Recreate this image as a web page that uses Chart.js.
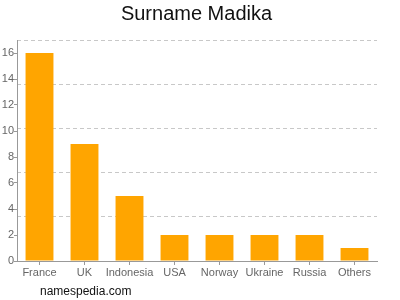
<!DOCTYPE html>
<html>
<head>
<meta charset="utf-8">
<script src="https://cdn.jsdelivr.net/npm/chart.js@4.4.1/dist/chart.umd.min.js"></script>
<style>
  html, body { margin: 0; padding: 0; background: #fff; }
  #wrap { position: relative; width: 400px; height: 300px; }
  #footer { position: absolute; left: 40px; top: 284px; font: 12px "Liberation Sans", Arial, sans-serif; color: #111; }
</style>
</head>
<body>
<div id="wrap">
  <canvas id="c" width="400" height="300"></canvas>
  <div id="footer">namespedia.com</div>
</div>
<script>
// values
const countries = ['France', 'UK', 'Indonesia', 'USA', 'Norway', 'Ukraine', 'Russia', 'Others'];
const counts = [16, 9, 5, 2, 2, 2, 2, 1];
const yTicks = [0, 2, 4, 6, 8, 10, 12, 14, 16];
const gridLines = [0, 3.4, 6.8, 10.2, 13.6, 17];
const yMax = 17;

const FONT = '"Liberation Sans", Arial, sans-serif';

new Chart(document.getElementById('c'), {
  type: 'bar',
  data: {
    labels: countries,
    datasets: [{
      data: counts,
      backgroundColor: '#ffa500',
      barPercentage: 0.62,
      categoryPercentage: 1,
    }],
  },
  options: {
    responsive: false,
    animation: false,
    layout: { padding: { left: 0, right: 7, top: 0, bottom: 0 } },
    plugins: {
      legend: { display: false },
      tooltip: { enabled: false },
      title: {
        display: true,
        text: 'Surname Madika',
        color: '#111',
        font: { family: FONT, size: 20, weight: 'normal' },
        padding: { top: 2, bottom: 14 },
      },
    },
    scales: {
      x: {
        grid: { drawOnChartArea: false, drawTicks: true, tickLength: 4, offset: false, color: '#999' },
        border: { color: '#999' },
        ticks: { color: '#666', font: { family: FONT, size: 11 }, padding: 1, maxRotation: 0, autoSkip: false },
        afterFit(s) { s.height = 39; },
      },
      y: {
        min: 0,
        max: yMax,
        position: 'left',
        afterBuildTicks(s) { s.ticks = yTicks.map(v => ({ value: v })); },
        grid: { drawOnChartArea: false, drawTicks: true, tickLength: 3, color: '#999' },
        border: { color: '#999' },
        ticks: { color: '#666', font: { family: FONT, size: 11 }, padding: 0 },
        afterFit(s) { s.width = 17; },
      },
      // dashed grid, spaced independently of the labelled ticks
      yGrid: {
        min: 0,
        max: yMax,
        position: 'left',
        afterBuildTicks(s) { s.ticks = gridLines.map(v => ({ value: v })); },
        grid: { drawTicks: false, color: '#c8c8c8', lineWidth: 1 },
        border: { display: false, dash: [4, 3] },
        ticks: { display: false },
        afterFit(s) { s.width = 0; },
      },
      // empty right gutter so the title centres like the reference
      yPad: {
        position: 'right',
        grid: { display: false },
        border: { display: false },
        ticks: { display: false },
        afterFit(s) { s.width = 16; },
      },
    },
  },
});
</script>
</body>
</html>
